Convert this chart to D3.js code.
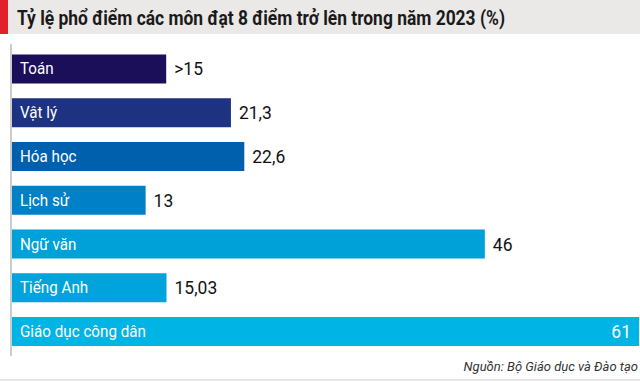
<!DOCTYPE html>
<html><head><meta charset="utf-8">
<script src="https://cdn.jsdelivr.net/npm/d3@7"></script>
<style>
html,body{margin:0;padding:0;background:#fff;}
svg{display:block;}
text{font-family:"Liberation Sans Narrow","Roboto","Liberation Sans",sans-serif;}
</style></head>
<body>
<svg id="c" width="640" height="381"></svg>
<script>
const categories = ["Toán","Vật lý","Hóa học","Lịch sử","Ngữ văn","Tiếng Anh","Giáo dục công dân"];
const values = [15, 21.3, 22.6, 13, 46, 15.03, 61];
const valueLabels = [">15","21,3","22,6","13","46","15,03","61"];
const colors = ["#1b0f5a","#1e3282","#0060ad","#0080c6","#00a0d8","#00a3db","#00b4e6"];
const title = "Tỷ lệ phổ điểm các môn đạt 8 điểm trở lên trong năm 2023 (%)";
const source = "Nguồn: Bộ Giáo dục và Đào tạo";

const svg = d3.select("#c");
const W = 640, H = 381;

// title band
svg.append("rect").attr("x",0).attr("y",0).attr("width",W).attr("height",34).attr("fill","#ebe8e8");
svg.append("rect").attr("x",0).attr("y",0).attr("width",8).attr("height",34).attr("fill","#e2202b");
svg.append("text").attr("x",17).attr("y",25).attr("font-size",20).attr("font-weight","bold")
  .attr("fill","#1a1a1a").attr("textLength",488).attr("lengthAdjust","spacingAndGlyphs").text(title);

const x = d3.scaleLinear().domain([0,61]).range([12,639]);
const y = d3.scaleBand().domain(categories).range([39.75,360.75]).paddingInner(0.337).paddingOuter(0.337);

// axis line
svg.append("line").attr("x1",11).attr("x2",11).attr("y1",44).attr("y2",356).attr("stroke","#bbbbbb").attr("stroke-width",1.5);

const g = svg.append("g");
categories.forEach((c,i)=>{
  const yy = y(c), bh = y.bandwidth();
  g.append("rect").attr("x",x(0)).attr("y",yy).attr("width",x(values[i])-x(0)).attr("height",bh).attr("fill",colors[i]);
  g.append("text").attr("transform",`translate(20,${yy+bh/2+5.5}) scale(0.95,1)`).attr("font-size",16).attr("fill","#fff").text(c);
  const inside = x(values[i]) > 600;
  const tx = inside ? x(values[i])-8 : x(values[i])+8;
  g.append("text").attr("transform",`translate(${tx},${yy+bh/2+6.5}) scale(0.92,1)`)
    .attr("text-anchor", inside ? "end":"start").attr("font-size",19)
    .attr("fill", inside ? "#fff":"#111").text(valueLabels[i]);
});

svg.append("text").attr("x",638).attr("y",371).attr("text-anchor","end").attr("font-size",13)
  .attr("font-style","italic").attr("fill","#333").text(source);
svg.append("line").attr("x1",0).attr("x2",W).attr("y1",380).attr("y2",380).attr("stroke","#dddddd").attr("stroke-width",1.5);
</script>
</body></html>
